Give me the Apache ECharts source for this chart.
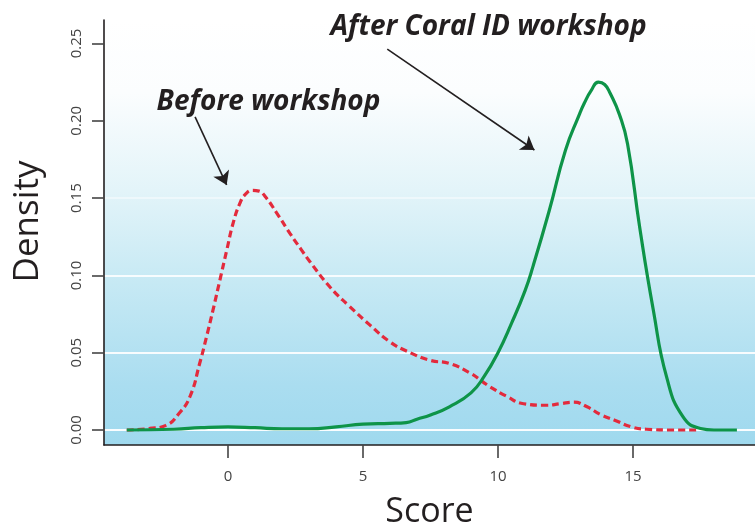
<!DOCTYPE html>
<html>
<head>
<meta charset="utf-8">
<script src="https://cdn.jsdelivr.net/npm/echarts@6/dist/echarts.min.js"></script>
<style>
html,body{margin:0;padding:0;background:#fff;}
#chart{width:755px;height:530px;}
</style>
</head>
<body>
<div id="chart"></div>
<script>
// ---- data ----
const beforeScore = [-3.75,-2.9,-2.3,-1.8,-1.4,-1.05,-0.8,-0.55,-0.3,-0.05,0.2,0.45,0.65,0.9,1.15,1.4,1.8,2.3,2.7,3.05,3.8,4.5,5.25,6.0,6.75,7.5,8.2,8.95,9.45,9.7,10.3,10.95,11.8,12.3,12.8,13.3,13.8,14.3,15.0,15.5,16.5,17.4];
const beforeDensity = [0,0.001,0.003,0.011,0.022,0.043,0.060,0.078,0.097,0.116,0.1345,0.147,0.1525,0.155,0.1545,0.1505,0.1405,0.127,0.117,0.1085,0.092,0.080,0.068,0.057,0.050,0.045,0.043,0.037,0.031,0.028,0.022,0.017,0.016,0.017,0.018,0.015,0.010,0.0065,0.0017,0.0005,0,0];
const afterScore = [-3.75,-2,-1,0,1,2,3,4,5,6,6.6,7,7.5,8.2,9,9.5,10,10.5,11,11.3,11.9,12.5,13,13.2,13.45,13.72,13.95,14.15,14.5,14.8,15.25,15.75,16.25,16.85,17.5,18,18.85];
const afterDensity = [0,0.0005,0.0015,0.002,0.0015,0.0008,0.0008,0.002,0.0038,0.0043,0.0048,0.007,0.0097,0.015,0.024,0.035,0.05,0.069,0.090,0.106,0.142,0.181,0.2035,0.2115,0.2195,0.225,0.2235,0.218,0.204,0.185,0.131,0.078,0.034,0.0086,0.001,0,0];
const xTicks = [0,5,10,15];
const yTicks = [0,0.05,0.10,0.15,0.20,0.25];
const beforeLabel = 'Before workshop';
const afterLabel = 'After Coral ID workshop';
const beforeLabelAt = [1.5, 0.212];
const afterLabelAt = [9.65, 0.2607];
const beforeArrow = [[-1.22, 0.2025], [-0.05, 0.1585]];
const afterArrow = [[5.9, 0.2464], [11.35, 0.1811]];

const pair = (xs, ys) => xs.map((x, i) => [x, ys[i]]);
const FONT = '"Open Sans", "DejaVu Sans", sans-serif';

const chart = echarts.init(document.getElementById('chart'), null, {renderer: 'canvas'});
chart.setOption({
  animation: false,
  backgroundColor: '#ffffff',
  grid: {
    left: 104, right: 0, top: 20, bottom: 85,
    containLabel: false, outerBoundsMode: 'none',
    show: true, borderWidth: 0,
    backgroundColor: new echarts.graphic.LinearGradient(0, 0, 0, 1, [
      {offset: 0, color: '#ffffff'},
      {offset: 0.17, color: '#fbfdfe'},
      {offset: 0.40, color: '#e3f4f9'},
      {offset: 0.62, color: '#c6e9f4'},
      {offset: 0.86, color: '#aaddf0'},
      {offset: 1, color: '#9fd9ee'}
    ])
  },
  xAxis: {
    type: 'value', min: -4.593, max: 19.52,
    name: 'Score', nameLocation: 'middle', nameGap: 50,
    nameTextStyle: {fontFamily: FONT, fontSize: 34, color: '#231f20'},
    axisLine: {show: true, onZero: false, lineStyle: {color: '#231f20', width: 1.6}},
    axisTick: {show: true, customValues: xTicks, length: 13, lineStyle: {color: '#444', width: 1.6}},
    axisLabel: {show: true, customValues: xTicks, margin: 24, fontFamily: FONT, fontSize: 15, color: '#444'},
    splitLine: {show: false}
  },
  yAxis: {
    type: 'value', min: -0.0097, max: 0.2652,
    name: 'Density', nameLocation: 'middle', nameGap: 58, nameRotate: 90,
    nameTextStyle: {fontFamily: FONT, fontSize: 35, color: '#231f20', padding: [0, 0, 0, 22]},
    axisLine: {show: true, onZero: false, lineStyle: {color: '#231f20', width: 1.6}},
    axisTick: {show: true, customValues: yTicks, length: 12, lineStyle: {color: '#444', width: 1.6}},
    axisLabel: {show: true, customValues: yTicks, rotate: 90, margin: 20, fontFamily: FONT, fontSize: 15, color: '#444',
      formatter: v => v.toFixed(2)},
    splitLine: {show: true, customValues: yTicks, lineStyle: {
      color: ['rgba(255,255,255,0.95)', 'rgba(255,255,255,0.9)', 'rgba(255,255,255,0.85)', 'rgba(255,255,255,0.45)', 'rgba(255,255,255,0)', 'rgba(255,255,255,0)'],
      width: 2}}
  },
  series: [
    {
      name: 'Before', type: 'line', smooth: 0.5, showSymbol: false, silent: true,
      data: pair(beforeScore, beforeDensity),
      lineStyle: {color: '#e32a3c', width: 3.2, type: [7, 4]},
      z: 3,
      markLine: {
        silent: true, animation: false,
        symbol: ['none', 'arrow'], symbolSize: 13,
        label: {show: false},
        lineStyle: {color: '#231f20', width: 1.6, type: 'solid'},
        itemStyle: {color: '#231f20'},
        emphasis: {disabled: true},
        data: [
          [{coord: beforeArrow[0]}, {coord: beforeArrow[1]}],
          [{coord: afterArrow[0]}, {coord: afterArrow[1]}]
        ]
      }
    },
    {
      name: 'After', type: 'line', smooth: 0.5, showSymbol: false, silent: true,
      data: pair(afterScore, afterDensity),
      lineStyle: {color: '#0e9448', width: 3.2},
      z: 4,
      markPoint: {
        silent: true, animation: false,
        symbol: 'circle', symbolSize: 1,
        itemStyle: {color: 'rgba(0,0,0,0)'},
        label: {show: true, position: 'inside', fontFamily: FONT, fontStyle: 'italic', fontWeight: 'bold',
          fontSize: 28, color: '#231f20', formatter: p => p.name},
        data: [
          {name: beforeLabel, coord: beforeLabelAt},
          {name: afterLabel, coord: afterLabelAt}
        ]
      }
    }
  ]
});
</script>
</body>
</html>
